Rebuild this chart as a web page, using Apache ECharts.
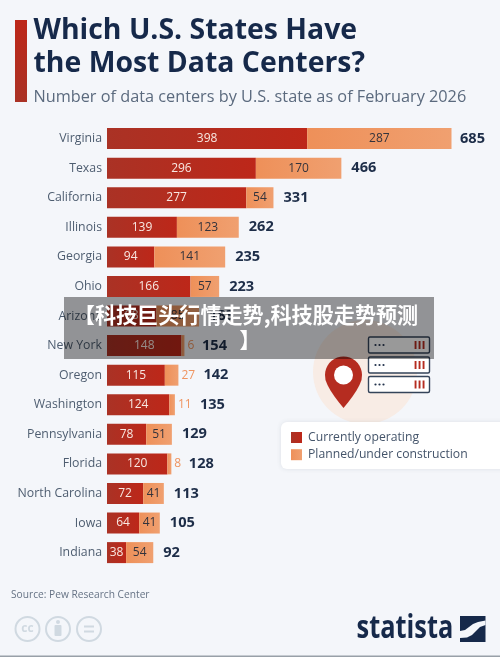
<!DOCTYPE html>
<html><head><meta charset="utf-8">
<style>html,body{margin:0;padding:0;background:#f4f6fa}#c{width:500px;height:657px}</style>
<script src="https://cdn.jsdelivr.net/npm/echarts@6/dist/echarts.min.js"></script>
</head><body><div id="c"></div>
<script>
const states = ["Virginia","Texas","California","Illinois","Georgia","Ohio","Arizona","New York","Oregon","Washington","Pennsylvania","Florida","North Carolina","Iowa","Indiana"];
const operating = [398,296,277,139,94,166,98,148,115,124,78,120,72,64,38];
const planned = [287,170,54,123,141,57,85,6,27,11,51,8,41,41,54];
const totals = [685,466,331,262,235,223,183,154,142,135,129,128,113,105,92];

const FONT = '"Open Sans","Noto Sans",sans-serif';
const BG = '#f4f6fa';
const grad = (a,b)=>({type:'linear',x:0,y:0,x2:1,y2:0,colorStops:[{offset:0,color:a},{offset:1,color:b}]});
const redFill = grad('#aa3225','#bd2719');
const orangeFill = grad('#ee9059','#f0a070');
const isOutside = v => v < 30;
const txt = (x,y,text,font,fill,extra={},el={}) => Object.assign({type:'text',x,y,z:5,style:Object.assign({text,font,fill,verticalAlign:'middle'},extra)},el);
const rect = (x,y,width,height,fill,z=1,r=0) => ({type:'rect',z,shape:{x,y,width,height,r},style:{fill}});
const circle = (cx,cy,r,style,z=2) => ({type:'circle',z,shape:{cx,cy,r},style});

const serverRows = [337,357,376.5];
const serverShapes = [];
serverRows.forEach(y=>{
  serverShapes.push({type:'rect',z:3,shape:{x:368.5,y,width:61,height:16,r:1.5},style:{fill:'#ffffff',stroke:'#34445a',lineWidth:1.4}});
  [375.5,379.5,383.5].forEach(cx=>serverShapes.push(circle(cx,y+8,1.1,{fill:'#24344e'},4)));
  [415.5,419.5,423.5].forEach(x=>serverShapes.push(rect(x-0.9,y+4,1.9,8,'#b52c20',4)));
});
// location-pin silhouette: a half circle on top of two curved flanks
const pinOutline = [];
for (let d = 180; d <= 360; d += 10) {
  const a = d*Math.PI/180;
  pinOutline.push([343.5+18.5*Math.cos(a), 375+18.5*Math.sin(a)]);
}
pinOutline.push([361.5,380],[359.5,385],[356.5,390.5],[352.5,396.5],[348,402.5],[343.5,408],[339,402.5],[334.5,396.5],[330.5,390.5],[327.5,385],[325.5,380]);
const swoosh = [[460,631],[465,630],[469,627],[473,624],[478,622],[485.5,620.5],[485.5,625],[480,627],[476,631],[472,635],[467,637.5],[460,638]];

const option = {
  backgroundColor:BG,
  animation:false,
  textStyle:{fontFamily:FONT},
  grid:{left:107,right:48.5,top:123.8,height:443.6,containLabel:false},
  xAxis:{type:'value',min:0,max:685,show:false},
  yAxis:{type:'category',data:states,inverse:true,axisLine:{show:false},axisTick:{show:false},
    axisLabel:{margin:5,fontSize:12.3,color:'#4e5d70',fontFamily:FONT,padding:[2,0,0,0]}},
  legend:{orient:'vertical',left:291,top:431.5,icon:'rect',itemWidth:11,itemHeight:11,itemGap:5.2,z:6,padding:0,
    data:['Currently operating','Planned/under construction'],
    textStyle:{fontSize:12.2,color:'#44546a',fontFamily:FONT,padding:[0,0,0,1]}},
  series:[
    {name:'Currently operating',type:'bar',stack:'t',barWidth:21,data:operating,
     itemStyle:{color:redFill},
     label:{show:true,position:'inside',fontSize:12,color:'#f8e8e2',fontFamily:FONT}},
    {name:'Planned/under construction',type:'bar',stack:'t',barWidth:21,
     data:planned.map(v=>({value:v,label:isOutside(v)
       ?{show:true,position:'right',distance:3,color:'#ef9460',fontSize:12,fontFamily:FONT}
       :{show:true,position:'inside',color:'#33333c',fontSize:12,fontFamily:FONT}})),
     itemStyle:{color:orangeFill}},
    {name:'Total',type:'bar',stack:'t',barWidth:21,silent:true,
     data:totals.map((t,i)=>({value:0,label:{show:true,position:'right',formatter:String(t),
       distance:isOutside(planned[i])?10+String(planned[i]).length*7.5:(t>600?8.5:10),
       fontSize:14.6,fontWeight:'bold',color:'#1d2d48',fontFamily:FONT}})),
     itemStyle:{color:'transparent'}}
  ],
  graphic:{elements:[
    {type:'rect',z:1,shape:{x:15,y:20,width:12,height:82},style:{fill:{type:'linear',x:0,y:0,x2:0,y2:1,colorStops:[{offset:0,color:'#bd2719'},{offset:1,color:'#aa3225'}]}}},
    txt(33.5,31,'Which U.S. States Have','bold 28.4px '+FONT,'#16294a'),
    txt(33.5,64,'the Most Data Centers?','bold 28.4px '+FONT,'#16294a'),
    txt(33.5,97,'Number of data centers by U.S. state as of February 2026','16.28px '+FONT,'#5b6a7e'),

    circle(365,372,52,{fill:'#f8ece5'},1),
    {type:'polygon',z:2,shape:{points:pinOutline},style:{fill:'#b52c20'}},
    circle(343.5,375,9.5,{fill:'#ffffff'},3),
    ...serverShapes,

    {type:'rect',z:1,shape:{x:281,y:422,width:240,height:47,r:6},style:{fill:'#ffffff',shadowBlur:5,shadowColor:'rgba(60,70,90,0.12)'}},

    txt(11,595,'Source: Pew Research Center','10.2px '+FONT,'#667385'),
    circle(27.5,629,12,{fill:'none',stroke:'#d0d9e1',lineWidth:2}),
    txt(27.5,629,'cc','bold 12px '+FONT,'#d0d9e1',{align:'center'}),
    circle(58,629,12,{fill:'none',stroke:'#d0d9e1',lineWidth:2}),
    circle(58,622,2,{fill:'#d0d9e1'}),
    rect(54.5,625,7,11,'#d0d9e1',2,1),
    circle(89,629,12,{fill:'none',stroke:'#d0d9e1',lineWidth:2}),
    rect(84,625.5,10,2,'#d0d9e1'),
    rect(84,630.5,10,2,'#d0d9e1'),
    txt(356.5,629,'statista','bold 33px "Open Sans",sans-serif','#16294a',{},{scaleX:0.77}),
    rect(460,616,25.5,26,'#16294a'),
    {type:'polygon',z:3,shape:{points:swoosh},style:{fill:BG}},
    rect(0,655.5,500,1.5,'#98a0a8',5),

    rect(64,297,370,62,'rgba(0,0,0,0.4)',100),
    {type:'text',x:246,y:315,z:101,style:{text:'【科技巨头行情走势,科技股走势预测',
      font:'bold 21.1px "Noto Sans CJK SC",sans-serif',fill:'#ffffff',align:'center',verticalAlign:'middle'}},
    {type:'text',x:250,y:340,z:101,style:{text:'】',
      font:'bold 21.1px "Noto Sans CJK SC",sans-serif',fill:'#ffffff',align:'center',verticalAlign:'middle'}}
  ]}
};
echarts.init(document.getElementById('c'),null,{renderer:'canvas'}).setOption(option);
</script></body></html>
